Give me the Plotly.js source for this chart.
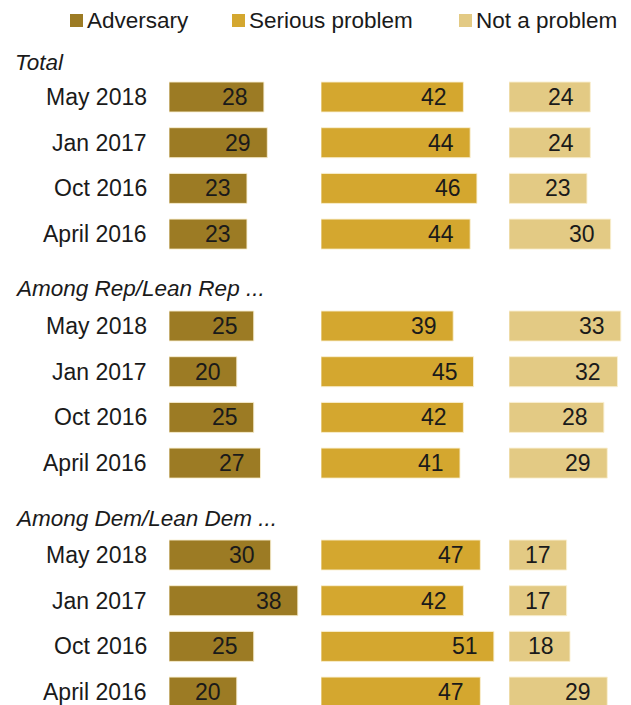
<!DOCTYPE html>
<html>
<head>
<meta charset="utf-8">
<script src="https://cdn.plot.ly/plotly-3.0.1.min.js"></script>
<style>html,body{margin:0;padding:0;background:#fff;}#chart{width:631px;height:705px;}</style>
</head>
<body>
<div id="chart"></div>
<script>
const groups = ["Total", "Among Rep/Lean Rep ...", "Among Dem/Lean Dem ..."];
const periods = ["May 2018", "Jan 2017", "Oct 2016", "April 2016"];
const seriesNames = ["Adversary", "Serious problem", "Not a problem"];
const adversary = [28, 29, 23, 23, 25, 20, 25, 27, 30, 38, 25, 20];
const serious = [42, 44, 46, 44, 39, 45, 42, 41, 47, 42, 51, 47];
const notProblem = [24, 24, 23, 30, 33, 32, 28, 29, 17, 17, 18, 29];

const colors = ["#9c7b24", "#d4a72f", "#e3ca84"];
const W = 631, H = 705;
const FONT = "Liberation Sans, Arial, sans-serif";
const TXT = "#1a1a1a";

// layout positions (pixels, y axis mapped 1:1 to pixels)
const rowY = [], rowLabels = [];
groups.forEach((g, gi) => {
  periods.forEach((p, ri) => {
    rowY.push(97 + gi * 229 + ri * 45.7);
    rowLabels.push(p);
  });
});
const headerOffsets = [35, 38, 37];
const headerY = groups.map((g, gi) => 97 + gi * 229 - headerOffsets[gi]);

const axes = [
  {x: "x", start: 169, range: 40},
  {x: "x2", start: 321, range: 52},
  {x: "x3", start: 509, range: 36}
];
const k = 3.39;
const allValues = [adversary, serious, notProblem];

const traces = allValues.map((vals, i) => ({
  type: "bar",
  orientation: "h",
  x: vals,
  y: rowY,
  width: 30,
  xaxis: axes[i].x,
  yaxis: "y",
  name: seriesNames[i],
  marker: {color: colors[i], line: {color: "rgba(250,240,210,0.9)", width: 1}},
  hoverinfo: "x",
  showlegend: false
}));

const annotations = [];
// value labels
allValues.forEach((vals, i) => {
  vals.forEach((v, j) => {
    annotations.push({
      xref: axes[i].x, yref: "y", x: v, y: rowY[j],
      text: String(v), showarrow: false, xanchor: "right", yanchor: "middle",
      xshift: -14, font: {family: FONT, size: 23, color: TXT}
    });
  });
});
// row labels
rowLabels.forEach((lab, j) => {
  annotations.push({
    xref: "paper", yref: "y", x: 149 / W, y: rowY[j],
    text: lab, showarrow: false, xanchor: "right", yanchor: "middle",
    font: {family: FONT, size: 23, color: TXT}
  });
});
// group headers
groups.forEach((g, gi) => {
  annotations.push({
    xref: "paper", yref: "y", x: 13 / W, y: headerY[gi],
    text: "<i>" + g + "</i>", showarrow: false, xanchor: "left", yanchor: "middle",
    font: {family: FONT, size: 22.5, color: TXT}
  });
});
// legend
const legX = [70, 232, 459];
const shapes = [];
seriesNames.forEach((n, i) => {
  shapes.push({type: "rect", xref: "paper", yref: "y",
    x0: legX[i] / W, x1: (legX[i] + 13) / W, y0: 14, y1: 27,
    fillcolor: colors[i], line: {width: 0}});
  annotations.push({
    xref: "paper", yref: "y", x: (legX[i] + 15) / W, y: 20.5,
    text: n, showarrow: false, xanchor: "left", yanchor: "middle",
    font: {family: FONT, size: 22.5, color: TXT}
  });
});

const hidden = {showgrid: false, zeroline: false, showticklabels: false, ticks: "", showline: false, fixedrange: true};
const layout = {
  width: W, height: H,
  margin: {l: 0, r: 0, t: 0, b: 0},
  paper_bgcolor: "#fff", plot_bgcolor: "rgba(0,0,0,0)",
  showlegend: false,
  bargap: 0,
  xaxis: Object.assign({}, hidden, {domain: [axes[0].start / W, (axes[0].start + axes[0].range * k) / W], range: [0, axes[0].range], anchor: "y"}),
  xaxis2: Object.assign({}, hidden, {domain: [axes[1].start / W, (axes[1].start + axes[1].range * k) / W], range: [0, axes[1].range], anchor: "y"}),
  xaxis3: Object.assign({}, hidden, {domain: [axes[2].start / W, Math.min(1, (axes[2].start + axes[2].range * k) / W)], range: [0, axes[2].range], anchor: "y"}),
  yaxis: Object.assign({}, hidden, {range: [H, 0]}),
  annotations: annotations,
  shapes: shapes
};
Plotly.newPlot("chart", traces, layout, {displayModeBar: false, staticPlot: true});
</script>
</body>
</html>
